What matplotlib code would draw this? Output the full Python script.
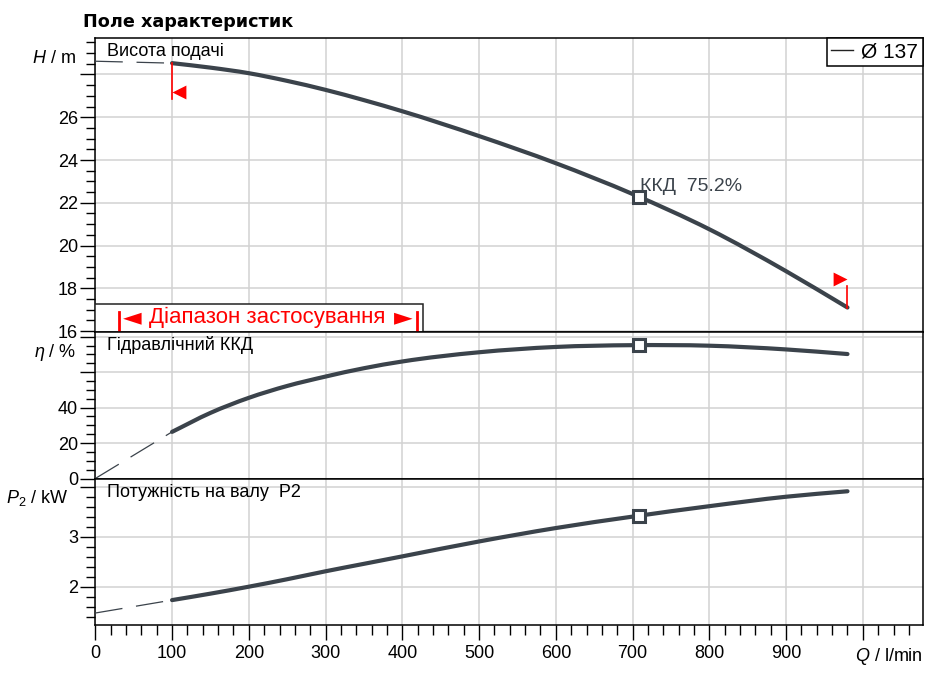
import numpy as np
import matplotlib
matplotlib.use("Agg")
import matplotlib.pyplot as plt
from matplotlib.path import Path
from matplotlib.patches import PathPatch, Rectangle
from matplotlib.lines import Line2D

plt.rcParams['font.family'] = ['Liberation Sans', 'DejaVu Sans']
plt.rcParams['mathtext.fontset'] = 'custom'
plt.rcParams['mathtext.rm'] = 'Liberation Sans'
plt.rcParams['mathtext.it'] = 'Liberation Sans:italic'

# ---------------- data ----------------
q = [100, 150, 200, 250, 300, 350, 400, 500, 600, 700, 800, 900, 980]
head = [28.53, 28.32, 28.06, 27.70, 27.28, 26.80, 26.28, 25.12, 23.85, 22.41, 20.76, 18.80, 17.10]
eta = [26.3, 37.0, 45.5, 52.2, 57.5, 62.2, 66.0, 71.2, 74.2, 75.2, 74.9, 72.8, 70.2]
power = [1.73, 1.86, 2.00, 2.15, 2.31, 2.46, 2.61, 2.91, 3.18, 3.41, 3.62, 3.81, 3.92]

q_ext = [0, 100]
head_ext = [28.62, 28.53]
eta_ext = [0.0, 26.3]
power_ext = [1.47, 1.73]

q_bep = 708
head_bep = 22.26
eta_bep = 75.2
power_bep = 3.43

q_min_op, q_max_op = 100, 980

x_ticks = [0, 100, 200, 300, 400, 500, 600, 700, 800, 900, 1000]
x_tick_labels = ['0', '100', '200', '300', '400', '500', '600', '700', '800', '900', '']
h_ticks = [16, 18, 20, 22, 24, 26, 28]
h_tick_labels = ['16', '18', '20', '22', '24', '26', '']
eta_ticks = [0, 20, 40, 60, 80]
eta_tick_labels = ['0', '20', '40', '', '']
p_ticks = [2, 3, 4]
p_tick_labels = ['2', '3', '']

title = 'Поле характеристик'
legend_label = 'Ø 137'
bep_label = 'ККД  75.2%'

# ---------------- style ----------------
CURVE = '#3b434b'
GRID = '#d2d2d2'
RED = '#ff0000'
FS = 13

W, HPX = 935, 677
fig = plt.figure(figsize=(W / 100, HPX / 100), dpi=100)


def rect(x0, y0, x1, y1):
    return [x0 / W, 1 - y1 / HPX, (x1 - x0) / W, (y1 - y0) / HPX]


def smooth_path(xs, ys):
    """Piecewise cubic Hermite curve through the data, as Bezier path segments."""
    x = np.asarray(xs, float)
    y = np.asarray(ys, float)
    h = np.diff(x)
    d = np.diff(y) / h
    m = np.empty_like(x)
    m[0], m[-1] = d[0], d[-1]
    for i in range(1, len(x) - 1):
        m[i] = (h[i] * d[i - 1] + h[i - 1] * d[i]) / (h[i - 1] + h[i])
    verts = [(x[0], y[0])]
    codes = [Path.MOVETO]
    for i in range(len(x) - 1):
        verts += [(x[i] + h[i] / 3, y[i] + m[i] * h[i] / 3),
                  (x[i + 1] - h[i] / 3, y[i + 1] - m[i + 1] * h[i] / 3),
                  (x[i + 1], y[i + 1])]
        codes += [Path.CURVE4] * 3
    return Path(verts, codes)


ax1 = fig.add_axes(rect(95.3, 37.7, 922.7, 331.7))
ax2 = fig.add_axes(rect(95.3, 331.7, 922.7, 478.5), sharex=ax1)
ax3 = fig.add_axes(rect(95.3, 478.5, 922.7, 625.3), sharex=ax1)

for ax in (ax1, ax2, ax3):
    ax.set_axisbelow(True)
    ax.grid(True, which='major', color=GRID, lw=1.1)
    for s in ax.spines.values():
        s.set_color('black')
        s.set_linewidth(1.1)
    ax.tick_params(axis='y', which='major', length=10.5, width=1.0, pad=2, labelsize=FS, colors='black')
    ax.tick_params(axis='y', which='minor', length=6.5, width=1.0)

ax1.set_xlim(0, 1078)
ax3.set_xticks(x_ticks)
ax3.set_xticklabels(x_tick_labels)
ax3.set_xticks(np.arange(0, 1078, 20), minor=True)
ax3.tick_params(axis='x', which='major', length=10.5, width=1.0, pad=4, labelsize=FS)
ax3.tick_params(axis='x', which='minor', length=7, width=1.0)
for ax in (ax1, ax2):
    ax.tick_params(axis='x', which='both', length=0, labelbottom=False)

# top panel: head
ax1.set_ylim(15.97, 29.72)
ax1.set_yticks(h_ticks)
ax1.set_yticklabels(h_tick_labels)
ax1.set_yticks(np.arange(16, 29.8, 0.5), minor=True)

# middle panel: efficiency
ax2.set_ylim(0, 82.8)
ax2.set_yticks(eta_ticks)
ax2.set_yticklabels(eta_tick_labels)
ax2.set_yticks(np.arange(0, 83, 5), minor=True)

# bottom panel: power
ax3.set_ylim(1.223, 4.177)
ax3.set_yticks(p_ticks)
ax3.set_yticklabels(p_tick_labels)
ax3.set_yticks(np.arange(1.4, 4.1, 0.2), minor=True)

# curves
for ax, yv, ye, yb in ((ax1, head, head_ext, head_bep),
                       (ax2, eta, eta_ext, eta_bep),
                       (ax3, power, power_ext, power_bep)):
    ax.plot(q_ext, ye, color=CURVE, lw=0.9, dashes=(22, 11), zorder=3)
    ax.add_patch(PathPatch(smooth_path(q, yv), facecolor='none', edgecolor=CURVE,
                           lw=3.0, capstyle='round', joinstyle='round', zorder=4))
    ax.plot([q_bep], [yb], marker='s', ms=8, mfc='white', mec=CURVE, mew=2.2, zorder=5)

# operating range markers
tri_left = Path([(0, 0), (1, 0.5), (1, -0.5), (0, 0)],
                [Path.MOVETO, Path.LINETO, Path.LINETO, Path.CLOSEPOLY])
tri_right = Path([(0, 0), (-1, 0.5), (-1, -0.5), (0, 0)],
                 [Path.MOVETO, Path.LINETO, Path.LINETO, Path.CLOSEPOLY])
ax1.plot([q_min_op, q_min_op], [head[0], 26.84], color=RED, lw=1.2, zorder=5)
ax1.plot([q_min_op], [27.17], marker=tri_left, ms=20, mfc=RED, mew=0, ls='none', zorder=5)
ax1.plot([q_max_op, q_max_op], [18.09, head[-1]], color=RED, lw=1.2, zorder=5)
ax1.plot([q_max_op], [18.42], marker=tri_right, ms=20, mfc=RED, mew=0, ls='none', zorder=5)

# application range box
ax1.add_patch(Rectangle((0, 0), 0.396, 0.0942, transform=ax1.transAxes,
                        facecolor='white', edgecolor='#222222', lw=1.1, zorder=6))
for xf in (0.0283, 0.3884):
    ax1.plot([xf, xf], [0, 0.068], transform=ax1.transAxes, color=RED, lw=2, zorder=7)
ax1.text(0.0328, 0.0265, '◄', transform=ax1.transAxes, ha='left', va='baseline',
         color=RED, fontsize=17.5, family='DejaVu Sans', zorder=7)
ax1.text(0.3838, 0.0265, '►', transform=ax1.transAxes, ha='right', va='baseline',
         color=RED, fontsize=17.5, family='DejaVu Sans', zorder=7)
ax1.text(0.2075, 0.0286, 'Діапазон застосування', transform=ax1.transAxes, ha='center',
         va='baseline', color=RED, fontsize=16, zorder=7)

# panel labels
ax1.text(0.0141, 0.939, 'Висота подачі', transform=ax1.transAxes, fontsize=FS, va='baseline')
ax2.text(0.0141, 0.872, 'Гідравлічний ККД', transform=ax2.transAxes, fontsize=FS, va='baseline')
ax3.text(0.0141, 0.876, 'Потужність на валу  P2', transform=ax3.transAxes, fontsize=FS, va='baseline')

# BEP annotation
ax1.annotate(bep_label, xy=(q_bep, head_bep), xytext=(1.2, 4.8), textcoords='offset points',
             ha='left', va='baseline', fontsize=14, color=CURVE)

# legend
leg = ax1.legend(handles=[Line2D([], [], color='#222222', lw=1.0)], labels=[legend_label],
                 loc='upper right', frameon=True, fancybox=False, edgecolor='black',
                 framealpha=1, borderaxespad=0, handlelength=1.05, handletextpad=0.38,
                 borderpad=0.22, fontsize=15)
leg.get_frame().set_linewidth(1.1)
leg.set_zorder(8)

# axis unit labels
fig.text(76 / W, 1 - 63.3 / HPX, '$H$ / m', ha='right', va='baseline', fontsize=FS)
fig.text(76 / W, 1 - 356.7 / HPX, r'$\eta$ / %', ha='right', va='baseline', fontsize=FS)
fig.text(68 / W, 1 - 503.3 / HPX, '$P_2$ / kW', ha='right', va='baseline', fontsize=FS)
fig.text(922.7 / W, 1 - 660.7 / HPX, '$Q$ / l/min', ha='right', va='baseline', fontsize=FS)

# title
fig.text(83 / W, 1 - 26.7 / HPX, title, fontsize=12.7, fontweight='bold',
         family='DejaVu Sans', va='baseline')

fig.savefig('out.png', dpi=100)
